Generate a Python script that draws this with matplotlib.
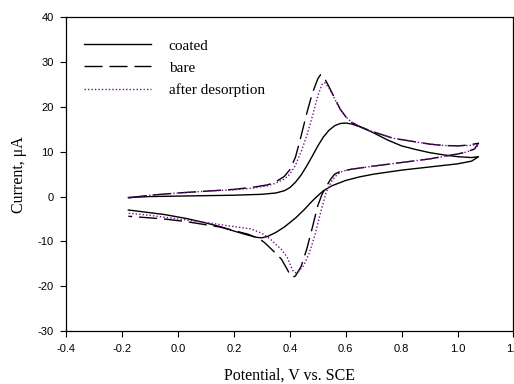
import matplotlib
matplotlib.use("Agg")
import matplotlib.pyplot as plt

# coated: forward scan then reverse scan
coated_fwd_v = [-0.178, -0.1, 0.0, 0.1, 0.2, 0.3, 0.35, 0.38, 0.40, 0.42, 0.44, 0.46, 0.48,
                0.50, 0.52, 0.54, 0.56, 0.58, 0.60, 0.62, 0.65, 0.70, 0.75, 0.80, 0.85,
                0.90, 0.95, 1.00, 1.05, 1.075]
coated_fwd_i = [-0.2, 0.0, 0.1, 0.2, 0.3, 0.5, 0.8, 1.3, 2.0, 3.2, 4.8, 6.8, 9.0,
                11.3, 13.3, 14.8, 15.8, 16.3, 16.4, 16.2, 15.6, 14.2, 12.6, 11.3, 10.5,
                9.8, 9.3, 8.9, 8.7, 8.9]
coated_rev_v = [1.075, 1.05, 1.0, 0.9, 0.8, 0.7, 0.65, 0.6, 0.55, 0.52, 0.50, 0.48, 0.45,
                0.42, 0.40, 0.38, 0.35, 0.32, 0.30, 0.28, 0.25, 0.2, 0.15, 0.1, 0.03,
                -0.05, -0.178]
coated_rev_i = [8.9, 7.9, 7.3, 6.6, 5.9, 5.0, 4.4, 3.6, 2.4, 1.3, 0.2, -1.0, -3.0,
                -4.8, -5.8, -6.8, -8.0, -8.9, -9.2, -9.1, -8.6, -7.7, -6.7, -5.9, -4.9,
                -4.0, -3.0]

# bare
bare_fwd_v = [-0.178, -0.1, 0.0, 0.1, 0.2, 0.27, 0.32, 0.35, 0.38, 0.40, 0.42, 0.44, 0.46,
              0.48, 0.50, 0.51, 0.52, 0.54, 0.56, 0.58, 0.60, 0.62, 0.65, 0.70, 0.77,
              0.85, 0.90, 0.95, 1.00, 1.04, 1.075]
bare_fwd_i = [-0.3, 0.3, 0.8, 1.2, 1.6, 2.1, 2.6, 3.3, 4.5, 6.0, 8.8, 13.5, 18.5,
              23.0, 26.3, 27.2, 26.8, 24.5, 22.0, 19.5, 17.8, 16.6, 15.6, 14.4, 13.0,
              12.2, 11.7, 11.4, 11.3, 11.5, 11.9]
bare_rev_v = [1.075, 1.06, 1.03, 1.0, 0.9, 0.8, 0.7, 0.62, 0.58, 0.56, 0.545, 0.53, 0.515,
              0.50, 0.48, 0.46, 0.44, 0.42, 0.41, 0.40, 0.39, 0.37, 0.35, 0.33, 0.31,
              0.29, 0.25, 0.2, 0.15, 0.1, 0.03, -0.05, -0.178]
bare_rev_i = [11.9, 10.6, 9.9, 9.5, 8.4, 7.6, 6.8, 6.1, 5.6, 5.0, 3.8, 2.2, 0.5,
              -2.0, -7.0, -11.8, -15.6, -17.7, -18.0, -17.4, -16.2, -14.0, -12.7, -11.5, -10.3,
              -9.4, -8.4, -7.6, -6.8, -6.3, -5.6, -5.0, -4.4]

# after desorption
desorb_fwd_v = [-0.178, -0.1, 0.0, 0.1, 0.2, 0.27, 0.32, 0.35, 0.38, 0.40, 0.42, 0.44, 0.46,
                0.48, 0.50, 0.515, 0.525, 0.54, 0.56, 0.58, 0.60, 0.62, 0.65, 0.70, 0.77,
                0.85, 0.90, 0.95, 1.00, 1.04, 1.075]
desorb_fwd_i = [-0.3, 0.3, 0.8, 1.2, 1.5, 1.9, 2.4, 3.0, 3.9, 5.0, 7.0, 10.0, 13.5,
                17.8, 22.5, 25.0, 25.4, 24.2, 21.8, 19.4, 17.8, 16.6, 15.6, 14.4, 13.0,
                12.2, 11.7, 11.4, 11.3, 11.4, 11.6]
desorb_rev_v = [1.075, 1.06, 1.03, 1.0, 0.9, 0.8, 0.7, 0.62, 0.59, 0.57, 0.55, 0.53, 0.51,
                0.49, 0.47, 0.45, 0.43, 0.42, 0.41, 0.39, 0.37, 0.35, 0.33, 0.30, 0.26,
                0.2, 0.1, 0.0, -0.1, -0.178]
desorb_rev_i = [11.6, 10.6, 9.9, 9.5, 8.4, 7.6, 6.8, 6.1, 5.7, 5.0, 3.5, 1.0, -3.5,
                -8.5, -12.5, -15.3, -16.9, -17.0, -16.5, -13.5, -11.8, -10.7, -9.5, -8.2, -7.2,
                -6.7, -5.8, -5.0, -4.2, -3.7]

xticks = [-0.4, -0.2, 0.0, 0.2, 0.4, 0.6, 0.8, 1.0, 1.2]
yticks = [-30, -20, -10, 0, 10, 20, 30, 40]

serif = "Liberation Serif"
sans = "Liberation Sans"

fig = plt.figure(figsize=(5.14, 3.84), dpi=100)
ax = fig.add_axes([0.129, 0.138, 0.870, 0.817])

purple = "#7a0a9a"
ax.plot(coated_fwd_v + coated_rev_v, coated_fwd_i + coated_rev_i,
        color="black", lw=1.0, label="coated")
ax.plot(bare_fwd_v + bare_rev_v, bare_fwd_i + bare_rev_i,
        color="black", lw=1.0, dashes=(13, 5), label="bare")
ax.plot(desorb_fwd_v + desorb_rev_v, desorb_fwd_i + desorb_rev_i,
        color=purple, lw=1.0, linestyle=(0, (1, 1.5)), label="after desorption")

ax.set_xlim(-0.4, 1.2)
ax.set_ylim(-30, 40)
ax.set_xticks(xticks)
ax.set_yticks(yticks)
ax.set_xticklabels([f"{t:.1f}" for t in xticks], fontfamily=sans, fontsize=8)
ax.set_yticklabels([str(t) for t in yticks], fontfamily=sans, fontsize=8)
ax.tick_params(direction="out", length=4, width=0.8, pad=5)
for s in ax.spines.values():
    s.set_linewidth(0.9)

ax.set_xlabel("Potential, V vs. SCE", fontfamily=serif, fontsize=11.5, labelpad=10)
ax.set_ylabel("Current, \u03bcA", fontfamily=serif, fontsize=11.5, labelpad=8)

leg = ax.legend(loc="upper left", bbox_to_anchor=(0.009, 0.975), frameon=False,
                handlelength=4.4, handletextpad=1.15, labelspacing=0.55,
                prop={"family": serif, "size": 11})

fig.savefig("out.png", dpi=100)
